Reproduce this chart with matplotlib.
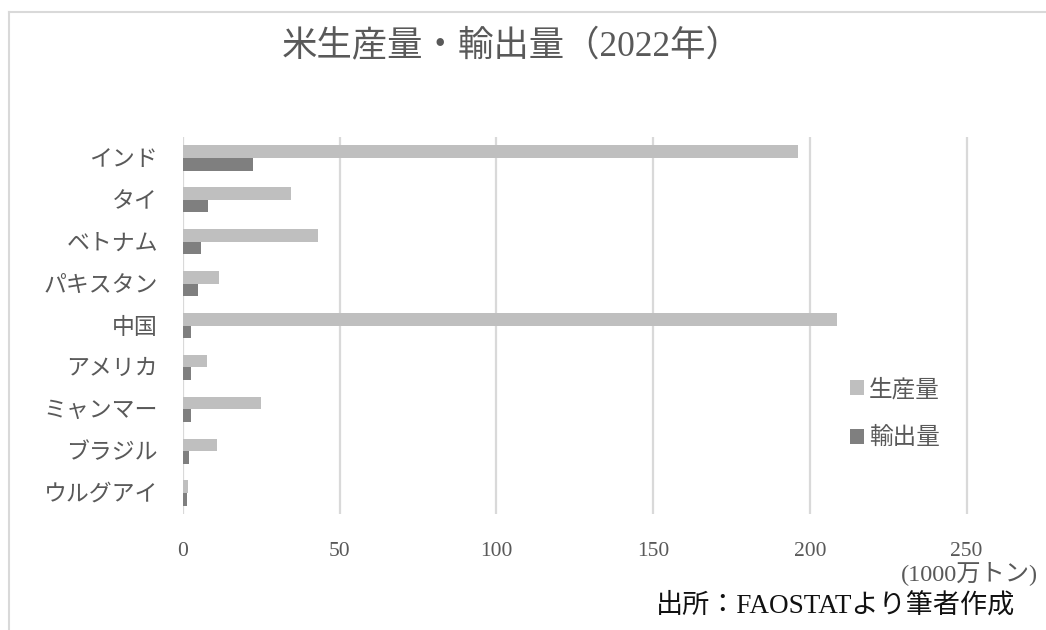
import matplotlib.pyplot as plt
from matplotlib.lines import Line2D
import numpy as np

plt.rcParams['font.family'] = ['Liberation Serif', 'Noto Sans CJK JP', 'DejaVu Sans']

# rice production / exports 2022, unit: 1000万トン
countries = ['インド', 'タイ', 'ベトナム', 'パキスタン', '中国', 'アメリカ', 'ミャンマー', 'ブラジル', 'ウルグアイ']
production = [196.2, 34.6, 43.0, 11.4, 208.5, 7.5, 25.0, 11.0, 1.7]
exports = [22.3, 8.0, 5.7, 4.9, 2.6, 2.5, 2.4, 1.8, 1.3]
xticks = [0, 50, 100, 150, 200, 250]

text_col = '#595959'
grid_col = '#d9d9d9'

fig = plt.figure(figsize=(10.46, 6.3), dpi=100)
ax = fig.add_axes([183/1046, 1 - 514/630, 862/1046, 377/630])

y = np.arange(len(countries))
h = 0.3
ax.barh(y - h/2, production, height=h, color='#bfbfbf', label='生産量', zorder=3)
ax.barh(y + h/2, exports, height=h, color='#7f7f7f', label='輸出量', zorder=3)

ax.set_xlim(0, 275)
ax.set_ylim(len(countries) - 0.5, -0.5)
ax.set_xticks(xticks)
ax.set_xticklabels([str(t) for t in xticks])
ax.set_yticks(y)
ax.set_yticklabels(countries)
for t in xticks:
    ax.axvline(t, color=grid_col, lw=1.6, zorder=1)
for s in ax.spines.values():
    s.set_visible(False)
ax.tick_params(axis='both', length=0, colors=text_col)
ax.tick_params(axis='x', labelsize=15.5, pad=20)
ax.tick_params(axis='y', labelsize=16.5, pad=18)

fig.legend(loc='center left', bbox_to_anchor=(829/1046, 1 - 414/630), frameon=False,
           fontsize=17, labelcolor=text_col, handlelength=0.6, handleheight=0.6,
           handletextpad=0.2, labelspacing=1.1)

fig.text(512/1046, 1 - 47/630, '米生産量・輸出量（2022年）', fontsize=25.5, color=text_col,
         ha='center', va='center')
fig.text(1038/1046, 1 - 573/630, '(1000万トン)', fontsize=17.5, color=text_col,
         ha='right', va='center')
fig.text(1015/1046, 1 - 606/630, '出所：FAOSTATより筆者作成', fontsize=19.5, color='#111111',
         ha='right', va='center')

# outer chart frame (left and top edges)
fig.add_artist(Line2D([8.5/1046, 8.5/1046], [0, 1 - 12/630], transform=fig.transFigure,
                      color=grid_col, lw=1.5))
fig.add_artist(Line2D([8.5/1046, 1], [1 - 12/630, 1 - 12/630], transform=fig.transFigure,
                      color=grid_col, lw=1.5))

fig.savefig('out.png', dpi=100)
